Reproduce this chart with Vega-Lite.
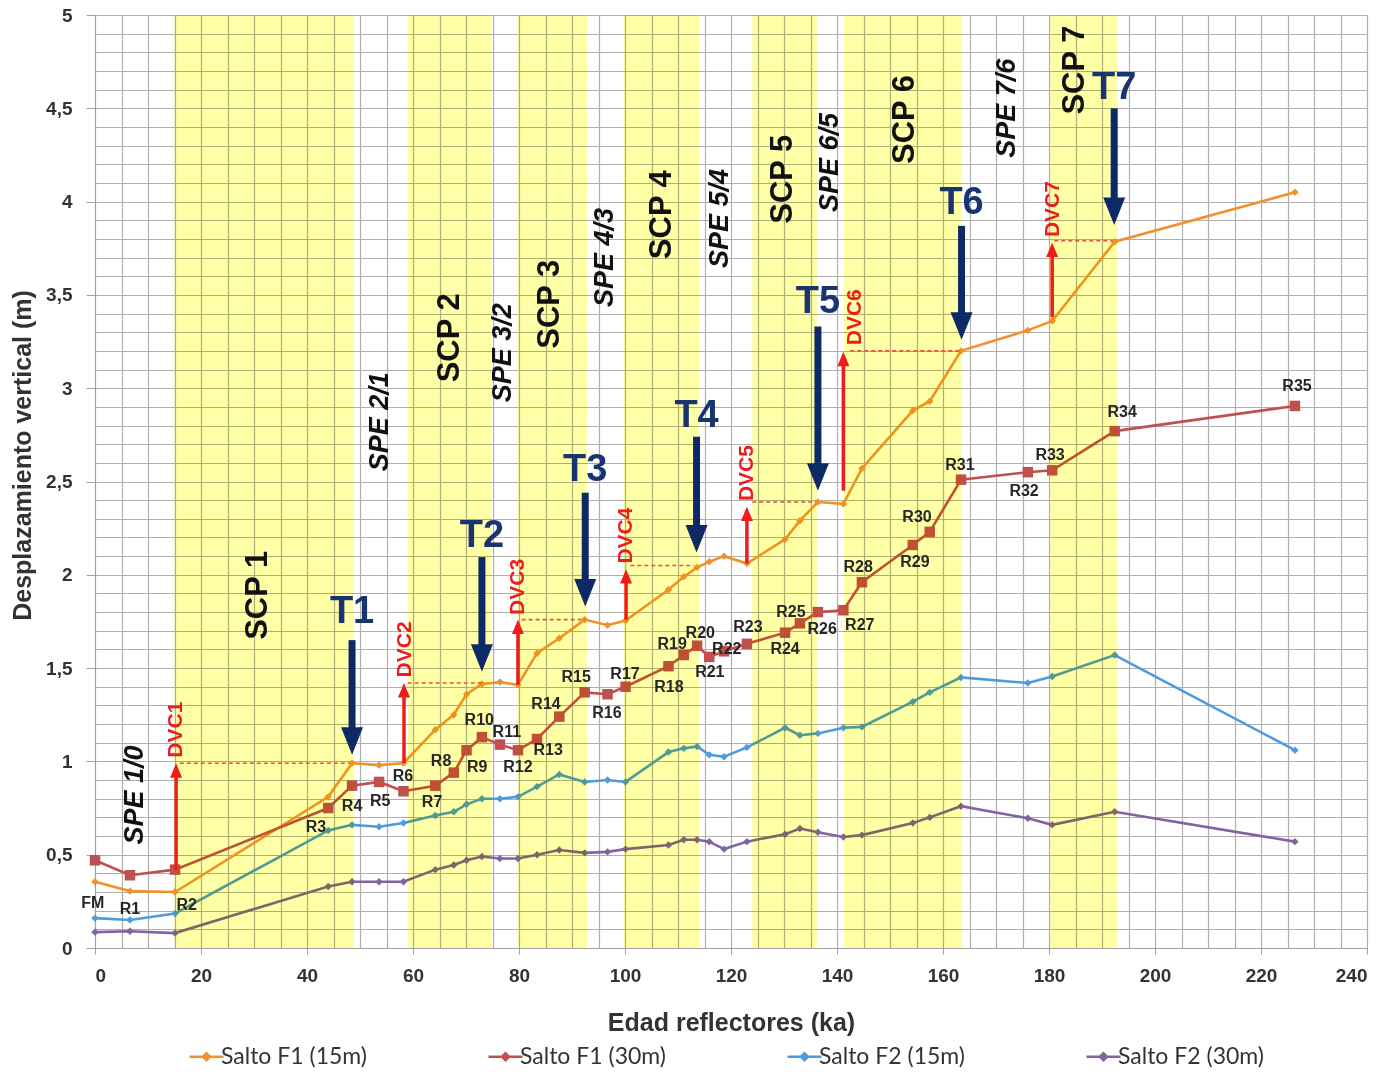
{
"$schema": "https://vega.github.io/schema/vega-lite/v6.json",
"autosize": {"type": "none"},
"width": 1272,
"height": 933,
"padding": {"left": 95, "top": 15, "right": 24, "bottom": 128},
"background": "white",
"config": {
  "view": {"stroke": null},
  "font": "Liberation Sans",
  "axis": {"gridColor": "#AEAEAE", "gridWidth": 1.2, "domainColor": "#A0A0A0", "tickColor": "#A0A0A0", "labelFont": "Liberation Sans", "labelFontWeight": "bold", "labelFontSize": 19, "labelColor": "#333333", "titleFont": "Liberation Sans", "titleFontWeight": "bold", "titleColor": "#333333"},
  "axisX": {"tickCount": 48},
  "axisY": {"tickCount": 50}
},
"datasets": {
  "series": [
    {"s":"Salto F1 (15m)","x":0,"y":0.355},{"s":"Salto F1 (15m)","x":6.6,"y":0.305},{"s":"Salto F1 (15m)","x":15.1,"y":0.3},{"s":"Salto F1 (15m)","x":44,"y":0.81},{"s":"Salto F1 (15m)","x":48.5,"y":0.99},{"s":"Salto F1 (15m)","x":53.6,"y":0.98},{"s":"Salto F1 (15m)","x":58.2,"y":0.99},{"s":"Salto F1 (15m)","x":64.2,"y":1.17},{"s":"Salto F1 (15m)","x":67.7,"y":1.25},{"s":"Salto F1 (15m)","x":70.1,"y":1.36},{"s":"Salto F1 (15m)","x":73,"y":1.415},{"s":"Salto F1 (15m)","x":76.4,"y":1.425},{"s":"Salto F1 (15m)","x":79.8,"y":1.41},{"s":"Salto F1 (15m)","x":83.4,"y":1.58},{"s":"Salto F1 (15m)","x":87.6,"y":1.66},{"s":"Salto F1 (15m)","x":92.4,"y":1.76},{"s":"Salto F1 (15m)","x":96.7,"y":1.73},{"s":"Salto F1 (15m)","x":100.1,"y":1.755},{"s":"Salto F1 (15m)","x":108.2,"y":1.92},{"s":"Salto F1 (15m)","x":111.1,"y":1.99},{"s":"Salto F1 (15m)","x":113.6,"y":2.04},{"s":"Salto F1 (15m)","x":115.9,"y":2.07},{"s":"Salto F1 (15m)","x":118.7,"y":2.1},{"s":"Salto F1 (15m)","x":123,"y":2.06},{"s":"Salto F1 (15m)","x":130.2,"y":2.19},{"s":"Salto F1 (15m)","x":133,"y":2.29},{"s":"Salto F1 (15m)","x":136.4,"y":2.39},{"s":"Salto F1 (15m)","x":141.2,"y":2.38},{"s":"Salto F1 (15m)","x":144.7,"y":2.57},{"s":"Salto F1 (15m)","x":154.3,"y":2.88},{"s":"Salto F1 (15m)","x":157.5,"y":2.93},{"s":"Salto F1 (15m)","x":163.4,"y":3.2},{"s":"Salto F1 (15m)","x":176,"y":3.31},{"s":"Salto F1 (15m)","x":180.6,"y":3.36},{"s":"Salto F1 (15m)","x":192.4,"y":3.785},{"s":"Salto F1 (15m)","x":226.4,"y":4.05},
    {"s":"Salto F1 (30m)","x":0,"y":0.47},{"s":"Salto F1 (30m)","x":6.6,"y":0.39},{"s":"Salto F1 (30m)","x":15.1,"y":0.42},{"s":"Salto F1 (30m)","x":44,"y":0.75},{"s":"Salto F1 (30m)","x":48.5,"y":0.87},{"s":"Salto F1 (30m)","x":53.6,"y":0.89},{"s":"Salto F1 (30m)","x":58.2,"y":0.84},{"s":"Salto F1 (30m)","x":64.2,"y":0.87},{"s":"Salto F1 (30m)","x":67.7,"y":0.94},{"s":"Salto F1 (30m)","x":70.1,"y":1.06},{"s":"Salto F1 (30m)","x":73,"y":1.13},{"s":"Salto F1 (30m)","x":76.4,"y":1.09},{"s":"Salto F1 (30m)","x":79.8,"y":1.06},{"s":"Salto F1 (30m)","x":83.4,"y":1.12},{"s":"Salto F1 (30m)","x":87.6,"y":1.24},{"s":"Salto F1 (30m)","x":92.4,"y":1.37},{"s":"Salto F1 (30m)","x":96.7,"y":1.36},{"s":"Salto F1 (30m)","x":100.1,"y":1.4},{"s":"Salto F1 (30m)","x":108.2,"y":1.51},{"s":"Salto F1 (30m)","x":111.1,"y":1.57},{"s":"Salto F1 (30m)","x":113.6,"y":1.62},{"s":"Salto F1 (30m)","x":115.9,"y":1.56},{"s":"Salto F1 (30m)","x":118.7,"y":1.59},{"s":"Salto F1 (30m)","x":123,"y":1.63},{"s":"Salto F1 (30m)","x":130.2,"y":1.69},{"s":"Salto F1 (30m)","x":133,"y":1.74},{"s":"Salto F1 (30m)","x":136.4,"y":1.8},{"s":"Salto F1 (30m)","x":141.2,"y":1.81},{"s":"Salto F1 (30m)","x":144.7,"y":1.96},{"s":"Salto F1 (30m)","x":154.3,"y":2.16},{"s":"Salto F1 (30m)","x":157.5,"y":2.23},{"s":"Salto F1 (30m)","x":163.4,"y":2.51},{"s":"Salto F1 (30m)","x":176,"y":2.55},{"s":"Salto F1 (30m)","x":180.6,"y":2.56},{"s":"Salto F1 (30m)","x":192.4,"y":2.77},{"s":"Salto F1 (30m)","x":226.4,"y":2.905},
    {"s":"Salto F2 (15m)","x":0,"y":0.16},{"s":"Salto F2 (15m)","x":6.6,"y":0.15},{"s":"Salto F2 (15m)","x":15.1,"y":0.185},{"s":"Salto F2 (15m)","x":44,"y":0.63},{"s":"Salto F2 (15m)","x":48.5,"y":0.66},{"s":"Salto F2 (15m)","x":53.6,"y":0.65},{"s":"Salto F2 (15m)","x":58.2,"y":0.67},{"s":"Salto F2 (15m)","x":64.2,"y":0.71},{"s":"Salto F2 (15m)","x":67.7,"y":0.73},{"s":"Salto F2 (15m)","x":70.1,"y":0.77},{"s":"Salto F2 (15m)","x":73,"y":0.8},{"s":"Salto F2 (15m)","x":76.4,"y":0.8},{"s":"Salto F2 (15m)","x":79.8,"y":0.81},{"s":"Salto F2 (15m)","x":83.4,"y":0.865},{"s":"Salto F2 (15m)","x":87.6,"y":0.93},{"s":"Salto F2 (15m)","x":92.4,"y":0.89},{"s":"Salto F2 (15m)","x":96.7,"y":0.9},{"s":"Salto F2 (15m)","x":100.1,"y":0.89},{"s":"Salto F2 (15m)","x":108.2,"y":1.05},{"s":"Salto F2 (15m)","x":111.1,"y":1.07},{"s":"Salto F2 (15m)","x":113.6,"y":1.08},{"s":"Salto F2 (15m)","x":115.9,"y":1.035},{"s":"Salto F2 (15m)","x":118.7,"y":1.025},{"s":"Salto F2 (15m)","x":123,"y":1.075},{"s":"Salto F2 (15m)","x":130.2,"y":1.18},{"s":"Salto F2 (15m)","x":133,"y":1.14},{"s":"Salto F2 (15m)","x":136.4,"y":1.15},{"s":"Salto F2 (15m)","x":141.2,"y":1.18},{"s":"Salto F2 (15m)","x":144.7,"y":1.185},{"s":"Salto F2 (15m)","x":154.3,"y":1.32},{"s":"Salto F2 (15m)","x":157.5,"y":1.37},{"s":"Salto F2 (15m)","x":163.4,"y":1.45},{"s":"Salto F2 (15m)","x":176,"y":1.42},{"s":"Salto F2 (15m)","x":180.6,"y":1.455},{"s":"Salto F2 (15m)","x":192.4,"y":1.57},{"s":"Salto F2 (15m)","x":226.4,"y":1.06},
    {"s":"Salto F2 (30m)","x":0,"y":0.085},{"s":"Salto F2 (30m)","x":6.6,"y":0.09},{"s":"Salto F2 (30m)","x":15.1,"y":0.08},{"s":"Salto F2 (30m)","x":44,"y":0.33},{"s":"Salto F2 (30m)","x":48.5,"y":0.355},{"s":"Salto F2 (30m)","x":53.6,"y":0.355},{"s":"Salto F2 (30m)","x":58.2,"y":0.355},{"s":"Salto F2 (30m)","x":64.2,"y":0.42},{"s":"Salto F2 (30m)","x":67.7,"y":0.445},{"s":"Salto F2 (30m)","x":70.1,"y":0.47},{"s":"Salto F2 (30m)","x":73,"y":0.49},{"s":"Salto F2 (30m)","x":76.4,"y":0.48},{"s":"Salto F2 (30m)","x":79.8,"y":0.48},{"s":"Salto F2 (30m)","x":83.4,"y":0.5},{"s":"Salto F2 (30m)","x":87.6,"y":0.525},{"s":"Salto F2 (30m)","x":92.4,"y":0.51},{"s":"Salto F2 (30m)","x":96.7,"y":0.515},{"s":"Salto F2 (30m)","x":100.1,"y":0.53},{"s":"Salto F2 (30m)","x":108.2,"y":0.552},{"s":"Salto F2 (30m)","x":111.1,"y":0.58},{"s":"Salto F2 (30m)","x":113.6,"y":0.58},{"s":"Salto F2 (30m)","x":115.9,"y":0.57},{"s":"Salto F2 (30m)","x":118.7,"y":0.53},{"s":"Salto F2 (30m)","x":123,"y":0.57},{"s":"Salto F2 (30m)","x":130.2,"y":0.61},{"s":"Salto F2 (30m)","x":133,"y":0.64},{"s":"Salto F2 (30m)","x":136.4,"y":0.62},{"s":"Salto F2 (30m)","x":141.2,"y":0.595},{"s":"Salto F2 (30m)","x":144.7,"y":0.605},{"s":"Salto F2 (30m)","x":154.3,"y":0.67},{"s":"Salto F2 (30m)","x":157.5,"y":0.7},{"s":"Salto F2 (30m)","x":163.4,"y":0.76},{"s":"Salto F2 (30m)","x":176,"y":0.695},{"s":"Salto F2 (30m)","x":180.6,"y":0.66},{"s":"Salto F2 (30m)","x":192.4,"y":0.73},{"s":"Salto F2 (30m)","x":226.4,"y":0.57}
  ],
  "bands": [
    {"x0":15,"x1":48.8},{"x0":59,"x1":74.7},{"x0":79.8,"x1":92.8},{"x0":99.8,"x1":114},{"x0":124,"x1":136.2},{"x0":141.3,"x1":163.5},{"x0":180.2,"x1":193}
  ],
  "dashes": [
    {"x0":16,"x1":48,"y":0.99},{"x0":59,"x1":73,"y":1.42},{"x0":80.5,"x1":92.5,"y":1.76},{"x0":101,"x1":113,"y":2.05},{"x0":124,"x1":136,"y":2.39},{"x0":142.5,"x1":163.5,"y":3.2},{"x0":181,"x1":192,"y":3.79}
  ],
  "tarrows": [
    {"t":"T1","x":48.5,"top":1.65,"tip":1.035,"ly":1.8},
    {"t":"T2","x":73,"top":2.095,"tip":1.48,"ly":2.21},
    {"t":"T3","x":92.5,"top":2.44,"tip":1.83,"ly":2.56},
    {"t":"T4","x":113.5,"top":2.74,"tip":2.12,"ly":2.85},
    {"t":"T5","x":136.4,"top":3.33,"tip":2.45,"ly":3.46},
    {"t":"T6","x":163.5,"top":3.87,"tip":3.26,"ly":3.99},
    {"t":"T7","x":192.3,"top":4.5,"tip":3.875,"ly":4.61}
  ],
  "darrows": [
    {"t":"DVC1","x":15.3,"start":0.42,"tip":0.99,"lx":15.3,"ly":1.02},
    {"t":"DVC2","x":58.3,"start":0.99,"tip":1.42,"lx":58.5,"ly":1.45},
    {"t":"DVC3","x":79.8,"start":1.41,"tip":1.76,"lx":79.9,"ly":1.785},
    {"t":"DVC4","x":100.2,"start":1.76,"tip":2.03,"lx":100.2,"ly":2.06},
    {"t":"DVC5","x":123,"start":2.06,"tip":2.365,"lx":123.1,"ly":2.395},
    {"t":"DVC6","x":141.2,"start":2.45,"tip":3.195,"lx":143.4,"ly":3.23},
    {"t":"DVC7","x":180.6,"start":3.38,"tip":3.78,"lx":180.8,"ly":3.81}
  ],
  "scp": [
    {"t":"SCP 1","x":30.8,"y":1.89},{"t":"SCP 2","x":67,"y":3.27},{"t":"SCP 3","x":85.8,"y":3.45},{"t":"SCP 4","x":107,"y":3.93},{"t":"SCP 5","x":129.8,"y":4.12},{"t":"SCP 6","x":152.8,"y":4.44},{"t":"SCP 7","x":184.9,"y":4.705}
  ],
  "spe": [
    {"t":"SPE 1/0","x":7.5,"y":0.82},{"t":"SPE 2/1","x":53.8,"y":2.82},{"t":"SPE 3/2","x":77,"y":3.19},{"t":"SPE 4/3","x":96.2,"y":3.7},{"t":"SPE 5/4","x":118,"y":3.91},{"t":"SPE 6/5","x":138.7,"y":4.21},{"t":"SPE 7/6","x":172,"y":4.5}
  ],
  "rlabels": [
    {"t":"FM","x":-0.4,"y":0.24},{"t":"R1","x":6.6,"y":0.21},{"t":"R2","x":17.3,"y":0.23},{"t":"R3","x":41.7,"y":0.65},{"t":"R4","x":48.5,"y":0.76},{"t":"R5","x":53.8,"y":0.79},{"t":"R6","x":58.1,"y":0.92},{"t":"R7","x":63.6,"y":0.78},{"t":"R8","x":65.3,"y":1.0},{"t":"R9","x":72.1,"y":0.97},{"t":"R10","x":72.5,"y":1.22},{"t":"R11","x":77.7,"y":1.16},{"t":"R12","x":79.8,"y":0.97},{"t":"R13","x":85.5,"y":1.06},{"t":"R14","x":85.1,"y":1.31},{"t":"R15","x":90.8,"y":1.45},{"t":"R16","x":96.6,"y":1.26},{"t":"R17","x":100,"y":1.47},{"t":"R18","x":108.3,"y":1.4},{"t":"R19","x":108.9,"y":1.63},{"t":"R20","x":114.2,"y":1.69},{"t":"R21","x":116,"y":1.48},{"t":"R22","x":119.2,"y":1.6},{"t":"R23","x":123.2,"y":1.72},{"t":"R24","x":130.2,"y":1.6},{"t":"R25","x":131.3,"y":1.8},{"t":"R26","x":137.2,"y":1.71},{"t":"R27","x":144.3,"y":1.73},{"t":"R28","x":144,"y":2.04},{"t":"R29","x":154.7,"y":2.07},{"t":"R30","x":155.1,"y":2.31},{"t":"R31","x":163.2,"y":2.59},{"t":"R32","x":175.3,"y":2.45},{"t":"R33","x":180.2,"y":2.64},{"t":"R34","x":193.8,"y":2.87},{"t":"R35","x":226.8,"y":3.01}
  ]
},
"layer": [
  {
    "data": {"name": "series"},
    "mark": {"type": "line", "strokeWidth": 2.6},
    "encoding": {
      "x": {"field": "x", "type": "quantitative", "scale": {"domain": [0, 240], "nice": false},
        "axis": {"title": "Edad reflectores (ka)", "tickCount": 48,
          "labelExpr": "datum.value % 20 === 0 ? datum.label : ''", "labelOverlap": false, "labelPadding": 12, "tickSize": 6,
          "tickOpacity": {"condition": {"test": "datum.value % 20 === 0", "value": 1}, "value": 0},
          "titleY": 74, "titleBaseline": "middle", "titleFontSize": 25}},
      "y": {"field": "y", "type": "quantitative", "scale": {"domain": [0, 5], "nice": false},
        "axis": {"title": "Desplazamiento vertical (m)", "tickCount": 50,
          "labelExpr": "round(datum.value*10) % 5 === 0 ? replace(format(datum.value, '.1~f'), '.', ',') : ''", "labelOverlap": false, "labelPadding": 14, "tickSize": 9,
          "tickOpacity": {"condition": {"test": "round(datum.value*10) % 5 === 0", "value": 1}, "value": 0},
          "titleX": -73, "titleY": 440, "titleAngle": 270, "titleBaseline": "middle", "titleAlign": "center", "titleFontSize": 25}},
      "color": {"field": "s", "type": "nominal",
        "scale": {"domain": ["Salto F1 (15m)", "Salto F1 (30m)", "Salto F2 (15m)", "Salto F2 (30m)"], "range": ["#F0922C", "#C0504D", "#4D9BE0", "#8064A2"]},
        "legend": {"orient": "none", "legendX": 100, "legendY": 1030, "direction": "horizontal", "columns": 4, "columnPadding": 115, "title": null,
          "symbolType": "M-1.7,0H1.7M-0.35,0L0,-0.35L0.35,0L0,0.35Z", "symbolSize": 400, "symbolStrokeWidth": 2.5,
          "labelFont": "Lato", "labelFontSize": 23, "labelColor": "#333333", "labelOffset": 3}}
    }
  },
  {
    "data": {"name": "series"},
    "transform": [{"filter": "datum.s !== 'Salto F1 (30m)'"}],
    "mark": {"type": "point", "filled": true, "opacity": 1, "shape": "diamond", "size": 55},
    "encoding": {
      "x": {"field": "x", "type": "quantitative"},
      "y": {"field": "y", "type": "quantitative"},
      "color": {"field": "s", "type": "nominal"}
    }
  },
  {
    "data": {"name": "series"},
    "transform": [{"filter": "datum.s === 'Salto F1 (30m)'"}],
    "mark": {"type": "point", "filled": true, "opacity": 1, "shape": "square", "size": 110},
    "encoding": {
      "x": {"field": "x", "type": "quantitative"},
      "y": {"field": "y", "type": "quantitative"},
      "color": {"field": "s", "type": "nominal"}
    }
  },
  {
    "data": {"name": "bands"},
    "mark": {"type": "rect", "color": "#FFFFA6", "opacity": 1, "blend": "multiply"},
    "encoding": {
      "x": {"field": "x0", "type": "quantitative"},
      "x2": {"field": "x1"}
    }
  },
  {
    "data": {"name": "dashes"},
    "mark": {"type": "rule", "color": "#E8504A", "strokeWidth": 1.6, "strokeDash": [4, 3]},
    "encoding": {
      "x": {"field": "x0", "type": "quantitative"},
      "x2": {"field": "x1"},
      "y": {"field": "y", "type": "quantitative"}
    }
  },
  {
    "data": {"name": "tarrows"},
    "transform": [{"calculate": "datum.tip + 0.12", "as": "shaftEnd"}],
    "mark": {"type": "rule", "color": "#0E2A66", "strokeWidth": 7},
    "encoding": {
      "x": {"field": "x", "type": "quantitative"},
      "y": {"field": "top", "type": "quantitative"},
      "y2": {"field": "shaftEnd"}
    }
  },
  {
    "data": {"name": "tarrows"},
    "mark": {"type": "point", "shape": "M-1,-2.5L1,-2.5L0,0Z", "size": 484, "filled": true, "color": "#0E2A66", "opacity": 1},
    "encoding": {
      "x": {"field": "x", "type": "quantitative"},
      "y": {"field": "tip", "type": "quantitative"}
    }
  },
  {
    "data": {"name": "tarrows"},
    "mark": {"type": "text", "font": "Liberation Sans", "fontWeight": "bold", "fontSize": 38, "color": "#1A3470", "align": "center", "baseline": "middle"},
    "encoding": {
      "x": {"field": "x", "type": "quantitative"},
      "y": {"field": "ly", "type": "quantitative"},
      "text": {"field": "t"}
    }
  },
  {
    "data": {"name": "darrows"},
    "transform": [{"calculate": "datum.tip - 0.05", "as": "shaftEnd"}],
    "mark": {"type": "rule", "color": "#EE1C1C", "strokeWidth": 3.5},
    "encoding": {
      "x": {"field": "x", "type": "quantitative"},
      "y": {"field": "start", "type": "quantitative"},
      "y2": {"field": "shaftEnd"}
    }
  },
  {
    "data": {"name": "darrows"},
    "mark": {"type": "point", "shape": "M-1,2.4L1,2.4L0,0Z", "size": 144, "filled": true, "color": "#EE1C1C", "opacity": 1},
    "encoding": {
      "x": {"field": "x", "type": "quantitative"},
      "y": {"field": "tip", "type": "quantitative"}
    }
  },
  {
    "data": {"name": "darrows"},
    "mark": {"type": "text", "font": "Liberation Sans", "fontWeight": "bold", "fontSize": 21, "color": "#EE1C1C", "align": "left", "baseline": "middle", "angle": 270},
    "encoding": {
      "x": {"field": "lx", "type": "quantitative"},
      "y": {"field": "ly", "type": "quantitative"},
      "text": {"field": "t"}
    }
  },
  {
    "data": {"name": "scp"},
    "mark": {"type": "text", "font": "Liberation Sans", "fontWeight": "bold", "fontSize": 31, "color": "#111111", "align": "center", "baseline": "middle", "angle": 270},
    "encoding": {
      "x": {"field": "x", "type": "quantitative"},
      "y": {"field": "y", "type": "quantitative"},
      "text": {"field": "t"}
    }
  },
  {
    "data": {"name": "spe"},
    "mark": {"type": "text", "font": "Liberation Sans", "fontWeight": "bold", "fontStyle": "italic", "fontSize": 27, "color": "#111111", "align": "center", "baseline": "middle", "angle": 270},
    "encoding": {
      "x": {"field": "x", "type": "quantitative"},
      "y": {"field": "y", "type": "quantitative"},
      "text": {"field": "t"}
    }
  },
  {
    "data": {"name": "rlabels"},
    "mark": {"type": "text", "font": "Liberation Sans", "fontWeight": "bold", "fontSize": 16, "color": "#262626", "align": "center", "baseline": "middle"},
    "encoding": {
      "x": {"field": "x", "type": "quantitative"},
      "y": {"field": "y", "type": "quantitative"},
      "text": {"field": "t"}
    }
  }
]
}
